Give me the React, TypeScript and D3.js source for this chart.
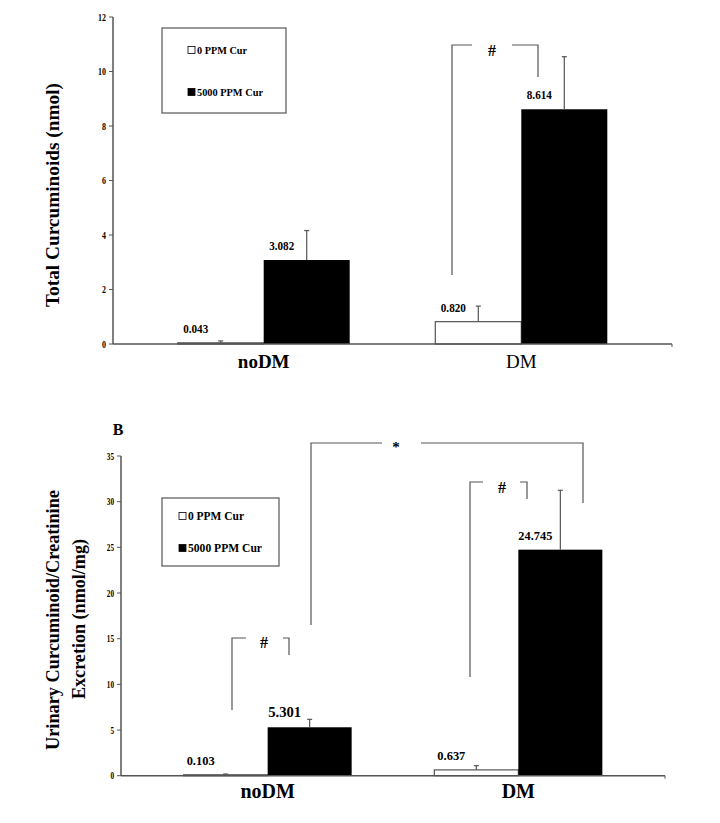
import React from "react";
import * as d3 from "d3";

const categories = ["noDM", "DM"];
const seriesNames = ["0 PPM Cur", "5000 PPM Cur"];

// Panel A: total curcuminoids (nmol)
const totalMean0 = [0.043, 0.82];
const totalMean5000 = [3.082, 8.614];
const totalErr0 = [0.07, 0.57];
const totalErr5000 = [1.08, 1.93];
const totalTicks = [0, 2, 4, 6, 8, 10, 12];

// Panel B: urinary curcuminoid / creatinine excretion (nmol/mg)
const urineMean0 = [0.103, 0.637];
const urineMean5000 = [5.301, 24.745];
const urineErr0 = [0.08, 0.46];
const urineErr5000 = [0.87, 6.5];
const urineTicks = [0, 5, 10, 15, 20, 25, 30, 35];

const SERIF = "'Liberation Serif', 'Times New Roman', serif";
const AX = "#555";

function ErrBar({ x, y0, y1 }: { x: number; y0: number; y1: number }) {
  return (
    <g stroke={AX} strokeWidth={1.2}>
      <line x1={x} x2={x} y1={y0} y2={y1} />
      <line x1={x - 2.5} x2={x + 2.5} y1={y1} y2={y1} />
    </g>
  );
}

function Panel(props: {
  x0: number; x1: number; yTop: number; yBottom: number; max: number; ticks: number[];
  mean0: number[]; mean5000: number[]; err0: number[]; err5000: number[];
  groupWidth: number; tickFont: number; catY: number; catSize: number; dmBold: boolean;
  labelFonts: { size: number; lens: number[] }[];
}) {
  const { x0, x1, yTop, yBottom, max, ticks, mean0, mean5000, err0, err5000, groupWidth } = props;
  const x = d3.scalePoint<string>().domain(categories).range([x0, x1]).padding(0.585);
  const y = d3.scaleLinear().domain([0, max]).range([yBottom, yTop]);
  const sub = d3.scaleBand<string>().domain(seriesNames).range([-groupWidth / 2, groupWidth / 2]).padding(0);
  const series = [
    { name: seriesNames[0], mean: mean0, err: err0, fill: "#fff" },
    { name: seriesNames[1], mean: mean5000, err: err5000, fill: "#000" },
  ];
  return (
    <g>
      {/* y axis */}
      <line x1={x0} x2={x0} y1={yTop} y2={yBottom} stroke={AX} strokeWidth={1.5} />
      {ticks.map((t) => (
        <g key={t}>
          <line x1={x0 - 4} x2={x0} y1={y(t)} y2={y(t)} stroke={AX} strokeWidth={1} />
          <text x={x0 - 7} y={y(t)} dy="0.35em" textAnchor="end" fontFamily={SERIF} fontWeight="bold"
            fontSize={props.tickFont} textLength={String(t).length * (props.tickFont * 0.36)} lengthAdjust="spacingAndGlyphs">
            {t}
          </text>
        </g>
      ))}
      {/* bars */}
      {series.map((s, si) =>
        categories.map((c, ci) => {
          const bx = (x(c) as number) + (sub(s.name) as number);
          const bw = sub.bandwidth();
          const top = y(s.mean[ci]);
          const cx = bx + bw / 2;
          const lf = props.labelFonts[si * 2 + ci];
          return (
            <g key={s.name + c}>
              <rect x={bx} y={top} width={bw} height={yBottom - top} fill={s.fill}
                stroke={si === 0 ? AX : "#000"} strokeWidth={si === 0 ? 1.2 : 0} />
              <ErrBar x={cx} y0={top} y1={y(s.mean[ci] + s.err[ci])} />
              <text x={cx - 25} y={top - 10} textAnchor="middle" fontFamily={SERIF} fontWeight="bold"
                fontSize={lf.size} textLength={lf.lens[0]} lengthAdjust="spacingAndGlyphs">
                {s.mean[ci].toFixed(3)}
              </text>
            </g>
          );
        })
      )}
      {/* x axis */}
      <line x1={x0} x2={x1} y1={yBottom} y2={yBottom} stroke={AX} strokeWidth={1.5} />
      <line x1={x1} x2={x1} y1={yBottom} y2={yBottom + 3} stroke={AX} strokeWidth={1} />
      {categories.map((c, i) => (
        <text key={c} x={x(c)} y={props.catY} textAnchor="middle" fontFamily={SERIF}
          fontWeight={i === 1 && !props.dmBold ? "normal" : "bold"} fontSize={props.catSize}>
          {c}
        </text>
      ))}
    </g>
  );
}

function Legend({ x, y, w, h, rows, sq, fs, lens }: { x: number; y: number; w: number; h: number; rows: number[]; sq: number; fs: number; lens: number[] }) {
  return (
    <g>
      <rect x={x} y={y} width={w} height={h} fill="#fff" stroke={AX} strokeWidth={1.2} />
      {seriesNames.map((n, i) => (
        <g key={n}>
          <rect x={x + sq} y={rows[i] - 3.5} width={7} height={7} fill={i === 0 ? "#fff" : "#000"} stroke="#000" strokeWidth={0.8} />
          <text x={x + sq + 9} y={rows[i]} dy="0.35em" fontFamily={SERIF} fontWeight="bold" fontSize={fs}
            textLength={lens[i]} lengthAdjust="spacingAndGlyphs">
            {n}
          </text>
        </g>
      ))}
    </g>
  );
}

function Bracket({ xl, xr, yTop, yl, yr, gap0, gap1, sym, sx, sy, fs }: any) {
  return (
    <g stroke={AX} strokeWidth={1.2} fill="none">
      <polyline points={`${xl},${yl} ${xl},${yTop} ${gap0},${yTop}`} />
      <polyline points={`${gap1},${yTop} ${xr},${yTop} ${xr},${yr}`} />
      <text x={sx} y={sy} textAnchor="middle" fontFamily={SERIF} fontWeight="bold" fontSize={fs} fill="#000" stroke="none">
        {sym}
      </text>
    </g>
  );
}

export default function App() {
  return (
    <svg width={720} height={823} style={{ position: "absolute", left: 0, top: 0, background: "#fff" }}>
      <rect width={720} height={823} fill="#fff" />
      {/* Panel A */}
      <text transform="translate(59,195) rotate(-90)" textAnchor="middle" fontFamily={SERIF} fontWeight="bold" fontSize={19}
        textLength={224} lengthAdjust="spacingAndGlyphs">
        Total Curcuminoids (nmol)
      </text>
      <Panel x0={113} x1={672} yTop={17} yBottom={344} max={12} ticks={totalTicks}
        mean0={totalMean0} mean5000={totalMean5000} err0={totalErr0} err5000={totalErr5000}
        groupWidth={172} tickFont={11} catY={368} catSize={19} dmBold={false}
        labelFonts={[{ size: 12, lens: [25] }, { size: 12, lens: [25] }, { size: 12, lens: [25] }, { size: 12, lens: [25] }]} />
      <Legend x={162} y={28} w={124} h={85} rows={[50, 92]} sq={26} fs={11} lens={[50, 66]} />
      <Bracket xl={452} xr={538} yTop={45} yl={275} yr={77} gap0={472} gap1={512} sym="#" sx={492} sy={56} fs={16} />

      {/* Panel B */}
      <text x={118} y={435} textAnchor="middle" fontFamily={SERIF} fontWeight="bold" fontSize={16}>B</text>
      <text transform="translate(59,620) rotate(-90)" textAnchor="middle" fontFamily={SERIF} fontWeight="bold" fontSize={19}
        textLength={260} lengthAdjust="spacingAndGlyphs">
        Urinary Curcuminoid/Creatinine
      </text>
      <text transform="translate(85,619) rotate(-90)" textAnchor="middle" fontFamily={SERIF} fontWeight="bold" fontSize={19}
        textLength={160} lengthAdjust="spacingAndGlyphs">
        Excretion (nmol/mg)
      </text>
      <Panel x0={121} x1={665} yTop={456} yBottom={775.7} max={35} ticks={urineTicks}
        mean0={urineMean0} mean5000={urineMean5000} err0={urineErr0} err5000={urineErr5000}
        groupWidth={168} tickFont={10} catY={798} catSize={20} dmBold={true}
        labelFonts={[{ size: 12, lens: [28] }, { size: 12, lens: [28] }, { size: 15, lens: [33] }, { size: 13, lens: [34] }]} />
      <Legend x={162} y={498} w={117} h={68} rows={[516, 548]} sq={17} fs={12} lens={[56, 74]} />
      <Bracket xl={311} xr={583} yTop={443} yl={625} yr={503} gap0={382} gap1={421} sym="*" sx={396} sy={452} fs={15} />
      <Bracket xl={232} xr={289} yTop={638} yl={710} yr={655} gap0={246} gap1={283} sym="#" sx={264} sy={648} fs={16} />
      <Bracket xl={470} xr={527} yTop={482} yl={677} yr={499} gap0={483} gap1={520} sym="#" sx={502} sy={493} fs={16} />
    </svg>
  );
}
